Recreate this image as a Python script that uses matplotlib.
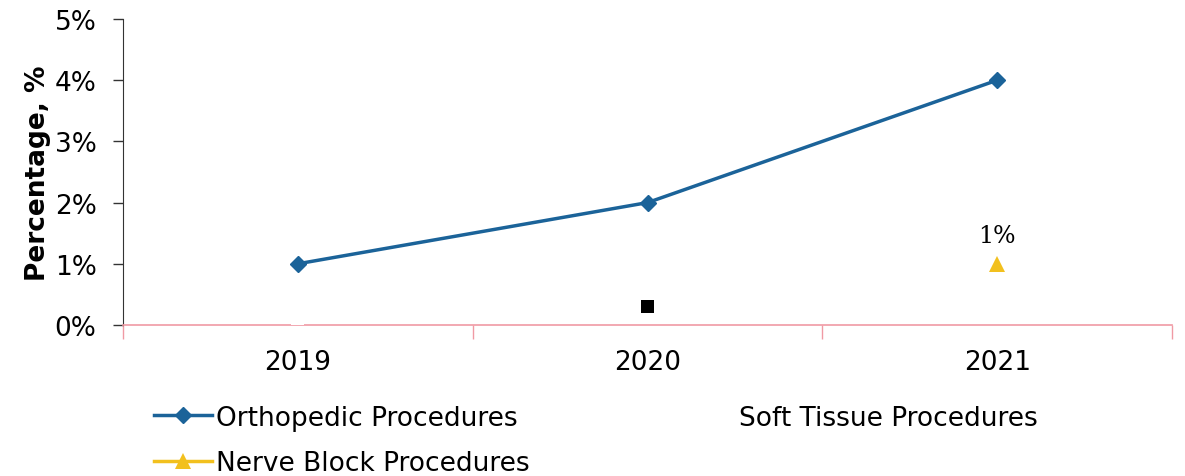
import matplotlib
matplotlib.use("Agg")
import matplotlib.pyplot as plt
import numpy as np
from matplotlib.lines import Line2D

years = ["2019", "2020", "2021"]
ortho = [1.0, 2.0, 4.0]
soft = [0.0, 0.3, np.nan]
soft_colors = ["white", "black", "white"]
nerve = [np.nan, np.nan, 1.0]
nerve_labels = [None, None, "1%"]
yticks = [0, 1, 2, 3, 4, 5]

plt.rcParams['font.family'] = ['DejaVu Sans']

fig = plt.figure(figsize=(11.85, 4.77), dpi=100)
ax = fig.add_axes([123/1185, 1-326/477, (1172-123)/1185, (326-20)/477])

x = np.arange(len(years))
ax.plot(x, ortho, color='#1B6399', lw=2.5, marker='D', ms=8, zorder=3)
ax.scatter(x, soft, c=soft_colors, marker='s', s=90, zorder=3, edgecolors='none')
ax.plot(x, nerve, color='#F2C01E', lw=2.5, marker='^', ms=11, zorder=3, markeredgewidth=0)
for xi, v, lab in zip(x, nerve, nerve_labels):
    if lab:
        ax.annotate(lab, (xi, v), xytext=(0, 12), textcoords='offset points',
                    ha='center', va='bottom', fontsize=17, family='DejaVu Serif')

ax.set_xlim(-0.5, 2.5)
ax.set_ylim(0, 5)
ax.set_yticks(yticks)
ax.set_yticklabels([f"{t}%" for t in yticks], fontsize=19)
ax.set_xticks(x)
ax.set_xticklabels(years, fontsize=19)
ax.set_xticks(np.arange(-0.5, 3.0, 1.0), minor=True)
ax.tick_params(axis='x', which='major', length=0, pad=17)
ax.tick_params(axis='x', which='minor', length=10, color='#F09AA4', width=1)
ax.tick_params(axis='y', length=7, width=1, color='#333333', pad=12)
for s in ['top', 'right']:
    ax.spines[s].set_visible(False)
ax.spines['bottom'].set_color('#F09AA4')
ax.spines['bottom'].set_linewidth(1.2)
ax.spines['left'].set_color('#333333')
ax.set_ylabel("Percentage, %", fontsize=19, fontweight='bold', labelpad=3)

handles = [
    Line2D([], [], color='#1B6399', lw=2.5, marker='D', ms=8),
    Line2D([], [], color='#F2C01E', lw=2.5, marker='^', ms=11, markeredgewidth=0),
    Line2D([], [], color='white', lw=2.5, marker='s', ms=8),
]
labels = ["Orthopedic Procedures", "Nerve Block Procedures", "Soft Tissue Procedures"]
fig.legend(handles, labels, ncol=2, loc='upper left', bbox_to_anchor=(143/1185, 1-395/477),
           frameon=False, fontsize=19, handlelength=2.2, handletextpad=0.15,
           columnspacing=5.6, labelspacing=0.75, borderaxespad=0)

fig.savefig("out.png", dpi=100)
